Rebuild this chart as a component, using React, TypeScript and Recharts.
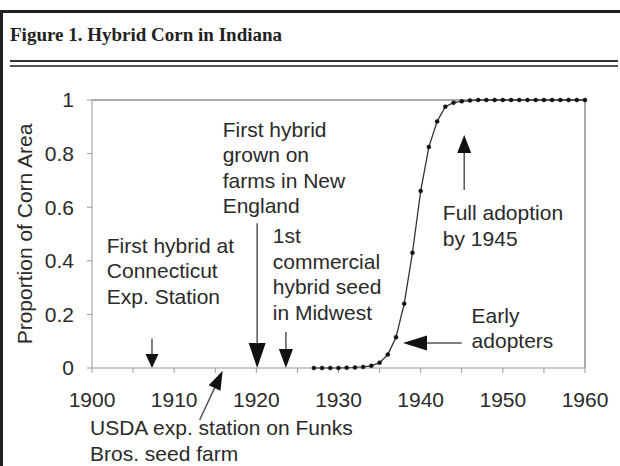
import React from "react"
import { LineChart, Line, XAxis, YAxis, ReferenceLine, ReferenceDot } from "recharts"

// share of Indiana corn area planted to hybrids, by year
const years = [
  1927, 1928, 1929, 1930, 1931, 1932, 1933, 1934, 1935, 1936, 1937, 1938, 1939, 1940, 1941, 1942, 1943,
  1944, 1945, 1946, 1947, 1948, 1949, 1950, 1951, 1952, 1953, 1954, 1955, 1956, 1957, 1958, 1959, 1960,
]
const shares = [
  0, 0, 0, 0, 0.001, 0.002, 0.004, 0.008, 0.02, 0.05, 0.115, 0.24, 0.43, 0.66, 0.825, 0.92, 0.975,
  0.99, 0.995, 0.998, 1, 1, 1, 1, 1, 1, 1, 1, 1, 1, 1, 1, 1, 1,
]
const xTicks = [1900, 1905, 1910, 1915, 1920, 1925, 1930, 1935, 1940, 1945, 1950, 1955, 1960]
const yTicks = [0, 0.2, 0.4, 0.6, 0.8, 1]

// annotation texts: anchor year / value of first line
const notes = [
  { x: 1901.8, y: 0.43, lines: ["First hybrid at", "Connecticut", "Exp. Station"] },
  { x: 1915.9, y: 0.862, lines: ["First hybrid", "grown on", "farms in New", "England"] },
  { x: 1922.0, y: 0.466, lines: ["1st", "commercial", "hybrid seed", "in Midwest"] },
  { x: 1942.7, y: 0.552, lines: ["Full adoption", "by 1945"] },
  { x: 1946.2, y: 0.168, lines: ["Early", "adopters"] },
  { x: 1899.76, y: -0.25, lines: ["USDA exp. station on Funks", "Bros. seed farm"] },
]

// arrows: from (x1,y1) to tip (x2,y2)
const arrows = [
  { x1: 1907.3, y1: 0.11, x2: 1907.3, y2: 0, len: 14, w: 13 },
  { x1: 1920.1, y1: 0.54, x2: 1920.1, y2: 0, len: 25, w: 17 },
  { x1: 1923.6, y1: 0.134, x2: 1923.6, y2: 0, len: 19, w: 14 },
  { x1: 1913.1, y1: -0.194, x2: 1915.9, y2: -0.01, len: 19, w: 13 },
  { x1: 1945.0, y1: 0.093, x2: 1937.85, y2: 0.093, len: 24, w: 15 },
  { x1: 1945.3, y1: 0.664, x2: 1945.3, y2: 0.869, len: 18, w: 14 },
]

const data = years.map((year, i) => ({ year, share: shares[i] }))

const FONT = "'Liberation Sans', Arial, sans-serif"

function arrowShape(len: number, w: number) {
  return (props: any) => {
    const { x1, y1, x2, y2 } = props
    const dx = x2 - x1
    const dy = y2 - y1
    const d = Math.sqrt(dx * dx + dy * dy) || 1
    const ux = dx / d
    const uy = dy / d
    const bx = x2 - ux * len
    const by = y2 - uy * len
    const px = -uy * (w / 2)
    const py = ux * (w / 2)
    return (
      <g>
        <line x1={x1} y1={y1} x2={bx} y2={by} stroke="#555" strokeWidth={1.5} />
        <polygon points={`${x2},${y2} ${bx + px},${by + py} ${bx - px},${by - py}`} fill="#111" />
      </g>
    )
  }
}

function noteShape(lines: string[]) {
  return (props: any) => {
    const { cx, cy } = props
    return (
      <text x={cx} y={cy} fill="#2a2a2a" fontSize={21} fontFamily={FONT}>
        {lines.map((l, i) => (
          <tspan key={i} x={cx} dy={i === 0 ? 0 : 25.5}>
            {l}
          </tspan>
        ))}
      </text>
    )
  }
}

export default function App() {
  return (
    <div style={{ position: "absolute", left: 0, top: 0, width: 620, height: 466, background: "#fff", overflow: "hidden" }}>
      <div style={{ position: "absolute", left: 0, top: 10, width: 620, height: 3, background: "#222" }} />
      <div style={{ position: "absolute", left: 0, top: 10, width: 3, height: 456, background: "#222" }} />
      <div
        style={{
          position: "absolute",
          left: 10,
          top: 24,
          fontFamily: "'Liberation Serif', serif",
          fontWeight: "bold",
          fontSize: 19,
          color: "#222",
          whiteSpace: "nowrap",
        }}
      >
        Figure 1. Hybrid Corn in Indiana
      </div>
      <div style={{ position: "absolute", left: 10, top: 60, width: 608, height: 2, background: "#333" }} />
      <div style={{ position: "absolute", left: 10, top: 65, width: 608, height: 1.5, background: "#555" }} />
      <div style={{ position: "absolute", left: 0, top: 0 }}>
        <LineChart width={620} height={466} data={data} margin={{ top: 100, right: 35, bottom: 0, left: 0 }}>
          <XAxis
            dataKey="year"
            type="number"
            domain={[1900, 1960]}
            ticks={xTicks}
            interval={0}
            height={98}
            tickSize={5}
            tickMargin={19}
            tickFormatter={(v: number) => (v % 10 === 0 ? String(v) : "")}
            stroke="#999"
            tick={{ fill: "#2a2a2a", fontSize: 21, fontFamily: FONT }}
          />
          <YAxis
            type="number"
            domain={[0, 1]}
            ticks={yTicks}
            interval={0}
            width={92}
            tickSize={5}
            tickMargin={13}
            stroke="#999"
            tick={{ fill: "#2a2a2a", fontSize: 21, fontFamily: FONT }}
            label={{
              value: "Proportion of Corn Area",
              angle: -90,
              position: "insideLeft",
              offset: 25,
              style: { textAnchor: "middle", fill: "#2a2a2a", fontSize: 21, fontFamily: FONT },
            }}
          />
          <ReferenceLine y={1} stroke="#aaa" strokeWidth={2} />
          <ReferenceLine x={1960} stroke="#aaa" strokeWidth={2} />
          <Line
            type="linear"
            dataKey="share"
            stroke="#333"
            strokeWidth={1.3}
            dot={{ r: 2, fill: "#111", stroke: "#111", strokeWidth: 0.5 }}
            isAnimationActive={false}
          />
          {arrows.map((a, i) => (
            <ReferenceLine
              key={`arrow-${i}`}
              segment={[
                { x: a.x1, y: a.y1 },
                { x: a.x2, y: a.y2 },
              ]}
              ifOverflow="visible"
              shape={arrowShape(a.len, a.w)}
            />
          ))}
          {notes.map((n, i) => (
            <ReferenceDot key={`note-${i}`} x={n.x} y={n.y} ifOverflow="visible" shape={noteShape(n.lines)} />
          ))}
        </LineChart>
      </div>
    </div>
  )
}
